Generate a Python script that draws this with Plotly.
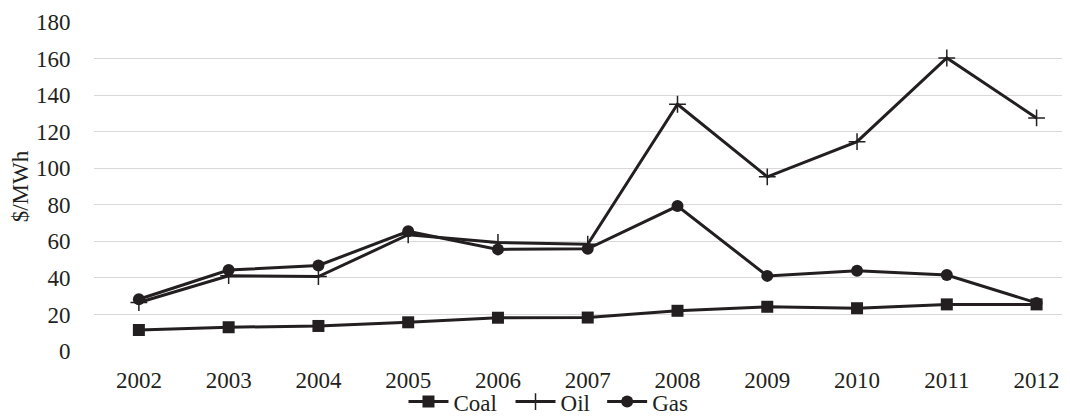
import plotly.graph_objects as go

years = ["2002", "2003", "2004", "2005", "2006", "2007", "2008", "2009", "2010", "2011", "2012"]
coal = [11.5, 13.0, 13.7, 15.7, 18.2, 18.3, 22.0, 24.2, 23.4, 25.5, 25.5]
oil = [26.5, 41.2, 40.7, 63.6, 59.4, 58.4, 135.0, 95.3, 114.5, 160.3, 127.5]
gas = [28.3, 44.3, 46.8, 65.5, 55.6, 55.9, 79.3, 41.1, 43.9, 41.6, 26.3]
yticks = [0, 20, 40, 60, 80, 100, 120, 140, 160, 180]

ink = "#231f20"
font_family = "Liberation Serif"

fig = go.Figure()
fig.add_trace(go.Scatter(x=years, y=coal, name="Coal", mode="lines+markers",
                         line=dict(color=ink, width=3), legend="legend",
                         marker=dict(symbol="square", size=12, color=ink)))
fig.add_trace(go.Scatter(x=years, y=oil, name="Oil", mode="lines+markers",
                         line=dict(color=ink, width=3), legend="legend2",
                         marker=dict(symbol="cross-thin", size=12, color=ink,
                                     line=dict(color=ink, width=1.5))))
fig.add_trace(go.Scatter(x=years, y=gas, name="Gas", mode="lines+markers",
                         line=dict(color=ink, width=3), legend="legend3",
                         marker=dict(symbol="circle", size=12, color=ink)))


def leg(xc):
    return dict(orientation="h", x=xc, xanchor="center", xref="container",
                yref="container", y=0.04, yanchor="middle",
                font=dict(family=font_family, size=23), itemwidth=40,
                bgcolor="rgba(0,0,0,0)")


fig.update_layout(
    width=1062, height=410,
    margin=dict(l=86, r=2, t=14, b=67, autoexpand=False),
    paper_bgcolor="white", plot_bgcolor="white",
    font=dict(family=font_family, size=23, color=ink),
    showlegend=True,
    legend=leg(0.419),
    legend2=leg(0.5132),
    legend3=leg(0.6023),
    xaxis=dict(type="category", range=[-0.5, 10.35], showgrid=False, zeroline=False,
               showline=False, ticks="outside", ticklen=8, tickcolor="rgba(0,0,0,0)",
               tickfont=dict(family=font_family, size=23), automargin=False),
    yaxis=dict(range=[0, 180], tickvals=yticks, showgrid=True, gridcolor="#d9d9d9",
               gridwidth=1, zeroline=False, showline=False, ticks="outside", ticklen=18,
               tickcolor="rgba(0,0,0,0)", tickfont=dict(family=font_family, size=23),
               automargin=False,
               title=dict(text="$/MWh", font=dict(family=font_family, size=23), standoff=0)),
)

fig.write_html("out.html")
